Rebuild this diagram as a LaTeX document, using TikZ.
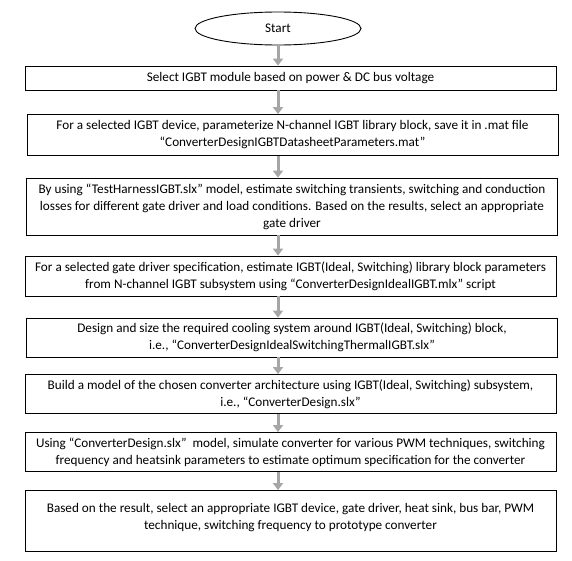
\documentclass[tikz,border=0pt]{standalone}
\usepackage{fontspec}
\setmainfont{Carlito}
\usetikzlibrary{shapes.geometric,arrows.meta}
\begin{document}
\begin{tikzpicture}[x=1pt,y=-1pt,
  every node/.style={font=\fontsize{13.2}{17}\selectfont},
  stepbox/.style={draw=black,line width=0.9pt,inner sep=0pt,align=center,minimum width=531pt},
  arr/.style={draw={rgb,255:red,166;green,166;blue,166},line width=3pt,-{Triangle[width=10pt,length=7pt]},shorten >=0pt}
]
\useasboundingbox (0,0) rectangle (572,560);
\fill[white] (0,0) rectangle (572,560);
\node[ellipse,draw=black,line width=0.9pt,minimum width=166pt,minimum height=33pt,inner sep=0pt] (s) at (278,28.5) {Start};
\node[stepbox,minimum height=24pt] (b1) at (290.5,78) {Select IGBT module based on power \& DC bus voltage};
\node[stepbox,minimum height=41pt] (b2) at (292.5,135) {For a selected IGBT device, parameterize N-channel IGBT library block, save it in .mat file\\“ConverterDesignIGBTDatasheetParameters.mat”};
\node[stepbox,minimum height=57pt] (b3) at (292,206.5) {By using “TestHarnessIGBT.slx” model, estimate switching transients, switching and conduction\\losses for different gate driver and load conditions. Based on the results, select an appropriate\\gate driver};
\node[stepbox,minimum height=40pt] (b4) at (290.5,276) {For a selected gate driver specification, estimate IGBT(Ideal, Switching) library block parameters\\from N-channel IGBT subsystem using “ConverterDesignIdealIGBT.mlx” script};
\node[stepbox,minimum height=39pt] (b5) at (292,337.5) {Design and size the required cooling system around IGBT(Ideal, Switching) block,\\i.e., “ConverterDesignIdealSwitchingThermalIGBT.slx”};
\node[stepbox,minimum height=39pt] (b6) at (290.5,394) {Build a model of the chosen converter architecture using IGBT(Ideal, Switching) subsystem,\\i.e., “ConverterDesign.slx”};
\node[stepbox,minimum height=39pt] (b7) at (290.5,452) {Using “ConverterDesign.slx”~ model, simulate converter for various PWM techniques, switching\\frequency and heatsink parameters to estimate optimum specification for the converter};
\node[stepbox,minimum height=61pt,text depth=10pt] (b8) at (290.5,521) {Based on the result, select an appropriate IGBT device, gate driver, heat sink, bus bar, PWM\\technique, switching frequency to prototype converter};
\draw[arr] (s.south) -- (b1.north -| s.south);
\draw[arr] (b1.south -| s.south) -- (b2.north -| s.south);
\draw[arr] (b2.south -| s.south) -- (b3.north -| s.south);
\draw[arr] (b3.south -| s.south) -- (b4.north -| s.south);
\draw[arr] (b4.south -| s.south) -- (b5.north -| s.south);
\draw[arr] (b5.south -| s.south) -- (b6.north -| s.south);
\draw[arr] (b6.south -| s.south) -- (b7.north -| s.south);
\draw[arr] (b7.south -| s.south) -- (b8.north -| s.south);
\end{tikzpicture}
\end{document}
